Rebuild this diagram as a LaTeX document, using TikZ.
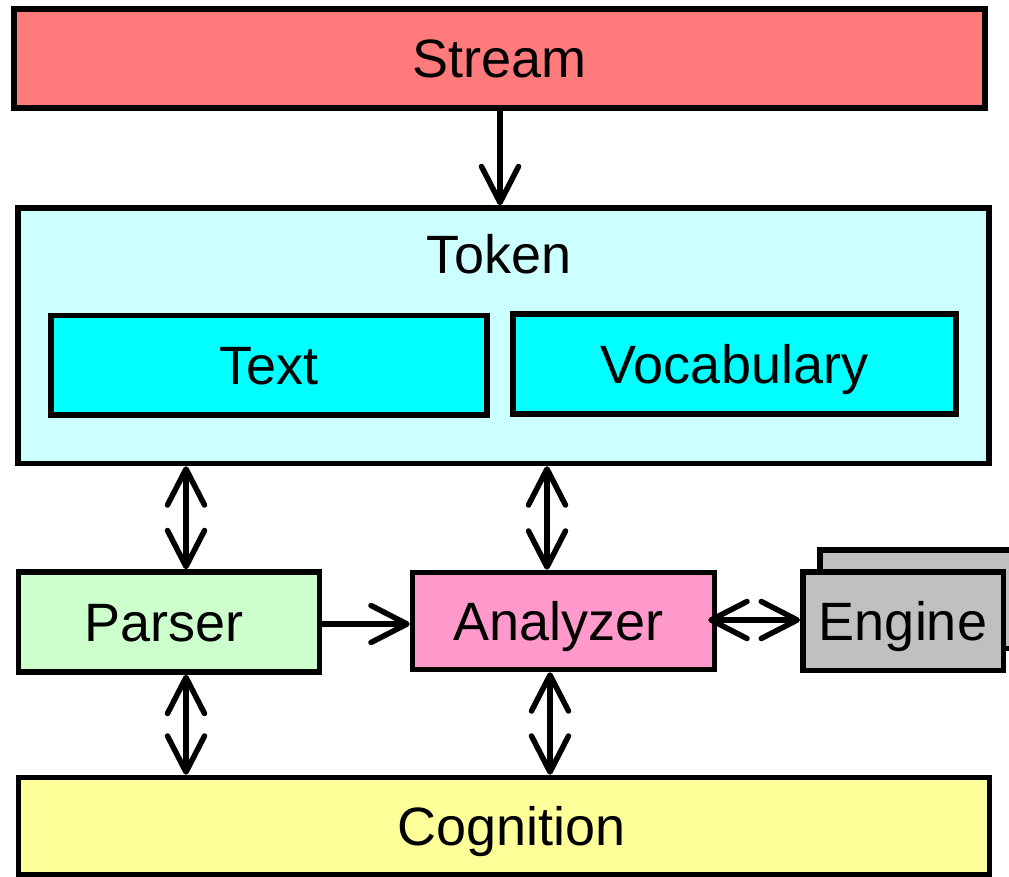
\documentclass[tikz,border=0pt]{standalone}
\usepackage{fontspec}
\setmainfont{Liberation Sans}
\usetikzlibrary{arrows.meta}
\definecolor{cstream}{RGB}{255,122,122}
\definecolor{ctoken}{RGB}{204,255,255}
\definecolor{cinner}{RGB}{0,255,255}
\definecolor{cparser}{RGB}{204,255,204}
\definecolor{canalyzer}{RGB}{255,153,204}
\definecolor{cengine}{RGB}{192,192,192}
\definecolor{ccog}{RGB}{255,255,153}
\tikzset{
  lbl/.style={font=\fontsize{54}{60}\selectfont, text height=38.7pt, text depth=0pt, inner sep=0pt},
  box/.style={lbl, draw=black, line width=5.5pt, rectangle},
  barb/.tip={Straight Barb[length=36pt,width=37pt,round]},
  conn/.style={line width=5.5pt, -barb},
  dconn/.style={line width=5.5pt, barb-barb},
}
\begin{document}
\begin{tikzpicture}[x=1pt,y=-1pt]
\useasboundingbox (0,0) rectangle (1009,877);
\node[box, fill=cstream, minimum width=971pt, minimum height=99pt] (stream) at (499.5,58.5) {Stream};
\node[box, fill=ctoken, minimum width=971pt, minimum height=255.5pt] (token) at (503.5,335.75) {};
\node[lbl] (tokenlabel) at (499,254) {Token};
\node[box, fill=cinner, minimum width=436pt, minimum height=99.5pt] (text) at (269,365.25) {Text};
\node[box, fill=cinner, minimum width=443pt, minimum height=100pt] (vocab) at (734.5,364) {Vocabulary};
\node[box, fill=cparser, minimum width=301pt, minimum height=100pt] (parser) at (169,622) {\hspace*{-10pt}Parser};
\node[box, fill=canalyzer, minimum width=302pt, minimum height=97pt] (analyzer) at (563.5,621) {\hspace*{-10pt}Analyzer};
\begin{scope}
\clip (0,0) rectangle (1009,877);
\node[box, fill=cengine, minimum width=200.5pt, minimum height=98.5pt] (engineback) at (920,599) {};
\end{scope}
\node[box, fill=cengine, minimum width=200.5pt, minimum height=98.5pt] (engine) at (903,621) {Engine};
\node[box, fill=ccog, minimum width=971pt, minimum height=97.5pt] (cog) at (504,826.25) {\hspace*{16pt}Cognition};
% connectors
\draw[conn] (stream.south -| 500,0) -- (token.north -| 500,0);
\draw[dconn] ([xshift=17pt]parser.north |- token.south) -- ([xshift=17pt]parser.north);
\draw[dconn] ([xshift=-16.5pt]analyzer.north |- token.south) -- ([xshift=-16.5pt]analyzer.north);
\draw[conn] (parser.east |- 0,624) -- (analyzer.west |- 0,624);
\draw[dconn] ([xshift=-9pt]analyzer.east |- 0,620) -- (engine.west |- 0,620);
\draw[dconn] ([xshift=17pt]parser.south) -- ([xshift=17pt]parser.south |- cog.north);
\draw[dconn] ([xshift=-13.5pt]analyzer.south) -- ([xshift=-13.5pt]analyzer.south |- cog.north);
\end{tikzpicture}
\end{document}
